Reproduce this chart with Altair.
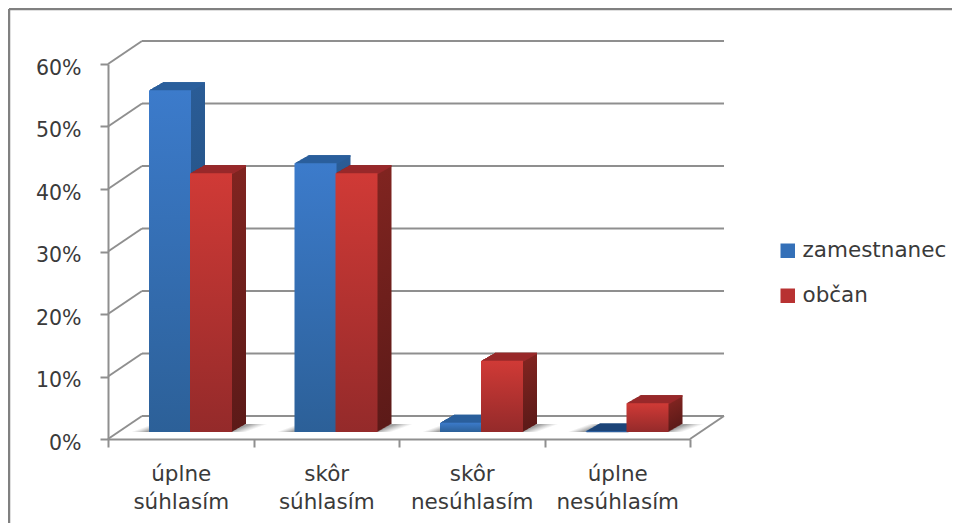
import altair as alt
import pandas as pd

categories = ["úplne súhlasím", "skôr súhlasím", "skôr nesúhlasím", "úplne nesúhlasím"]
zamestnanec = [54.7, 43.0, 1.5, 0.1]
obcan = [41.4, 41.4, 11.4, 4.6]
ticks = [0, 10, 20, 30, 40, 50, 60]
series_names = ["zamestnanec", "občan"]

GRAY = "#8f8f8f"
TXT = "#3a3a3a"
FONT = "DejaVu Sans"
W, H = 582, 375
DX, DY = 34, 23      # wall depth
BX, BY = 14, 8       # bar depth
BASE_Y = 7
HALF = W / 8

df_z = pd.DataFrame({"cat": categories, "v": zamestnanec})
df_o = pd.DataFrame({"cat": categories, "v": obcan})
df_t = pd.DataFrame({"v": ticks})

def grad(a, b):
    return alt.Gradient(gradient="linear", x1=0, y1=0, x2=0, y2=1,
                        stops=[alt.GradientStop(color=a, offset=0), alt.GradientStop(color=b, offset=1)])

xs = alt.X("cat:N", sort=categories,
           scale=alt.Scale(paddingInner=0, paddingOuter=0),
           axis=alt.Axis(title=None, labelAngle=0, labelExpr="split(datum.label,' ')",
                         labelFont=FONT, labelFontSize=21.5, labelColor=TXT, labelLineHeight=28.5,
                         labelPadding=16, tickSize=8, tickColor=GRAY, tickWidth=2, tickBand="extent",
                         domainColor=GRAY, domainWidth=2, grid=False))
ys = alt.Y("v:Q", scale=alt.Scale(domain=[0, 60], nice=False),
           axis=alt.Axis(title=None, values=ticks, labelExpr="datum.value + '%'",
                         labelFont=FONT, labelFontSize=20.5, labelColor=TXT, labelPadding=19,
                         labelOffset=4, tickSize=8, tickColor=GRAY, tickWidth=2,
                         domainColor=GRAY, domainWidth=2, grid=False))

layers = []
# axes carrier first
layers.append(alt.Chart(df_z).mark_bar(opacity=0).encode(x=xs, y=ys))
# chart frame
frame_df = pd.DataFrame({"v": [0]})
layers.append(alt.Chart(frame_df).mark_rule(color="#808080", strokeWidth=2.5).encode(
    x=alt.value(-99), x2=alt.value(W + 262), y=alt.value(-55)))
layers.append(alt.Chart(frame_df).mark_rule(color="#808080", strokeWidth=2.5).encode(
    x=alt.value(-99), y=alt.value(-55), y2=alt.value(H + 84)))
# back wall lines and diagonals
layers.append(alt.Chart(df_t).mark_rule(color=GRAY, strokeWidth=2, yOffset=-DY, y2Offset=-DY).encode(
    x=alt.value(DX), x2=alt.value(W + DX), y=ys))
layers.append(alt.Chart(df_t).mark_rule(color=GRAY, strokeWidth=2, y2Offset=-DY).encode(
    x=alt.value(0), x2=alt.value(DX), y=ys, y2=alt.Y2("v:Q")))
layers.append(alt.Chart(df_t[df_t.v == 0]).mark_rule(color=GRAY, strokeWidth=2, y2Offset=-DY).encode(
    x=alt.value(W), x2=alt.value(W + DX), y=ys, y2=alt.Y2("v:Q")))

# soft floor shadow under each pair of bars
shadow = alt.Gradient(gradient="linear", x1=0, y1=0, x2=1, y2=0, stops=[
    alt.GradientStop(color="rgba(150,150,150,0)", offset=0),
    alt.GradientStop(color="rgba(130,130,130,0.75)", offset=0.13),
    alt.GradientStop(color="rgba(130,130,130,0.75)", offset=0.85),
    alt.GradientStop(color="rgba(150,150,150,0)", offset=1),
])
for k in range(8):
    dy = -(BASE_Y + k)
    layers.append(alt.Chart(df_o).mark_bar(width=116, color=shadow, yOffset=dy, y2Offset=dy - 1).encode(
        x=xs, xOffset=alt.value(HALF + 9 + k * 2.75), y=alt.datum(0), y2=alt.datum(0)))

# bars
def bar_layers(df, center, front, side, top, low_top):
    out = []
    for k in range(BX, 0, -1):
        dy = -(BASE_Y + k * BY / BX)
        out.append(alt.Chart(df).mark_bar(width=42, color=side, yOffset=dy, y2Offset=dy).encode(
            x=xs, xOffset=alt.value(center + HALF + k), y=ys, y2=alt.datum(0)))
    for k in range(BX, 0, -1):
        dy = -(BASE_Y + k * BY / BX)
        out.append(alt.Chart(df).mark_bar(width=42, yOffset=dy, y2Offset=dy + 1.4).encode(
            x=xs, xOffset=alt.value(center + HALF + k), y=ys, y2=alt.Y2("v:Q"),
            color=alt.condition("datum.v < 1", alt.value(low_top), alt.value(top))))
    out.append(alt.Chart(df).mark_bar(width=42, color=front, yOffset=-BASE_Y, y2Offset=-BASE_Y).encode(
        x=xs, xOffset=alt.value(center + HALF), y=ys, y2=alt.datum(0)))
    return out

layers += bar_layers(df_z, -10.75, grad("#3c7bcb", "#2c6098"), grad("#2a5c96", "#1f4770"), "#2b5f9c", "#1d4578")
layers += bar_layers(df_o, 30.25, grad("#d03a36", "#942a2a"), grad("#802420", "#5c1a18"), "#98292a", "#98292a")

# legend
legend_df = pd.DataFrame({"s": series_names})
legend = alt.Chart(legend_df).mark_square(size=0, opacity=1).encode(
    color=alt.Color("s:N", sort=series_names,
                    scale=alt.Scale(domain=series_names, range=["#3470b8", "#b83232"]),
                    legend=alt.Legend(title=None, orient="none", legendX=669, legendY=176,
                                      symbolType="square", symbolSize=210, symbolOpacity=1,
                                      symbolStrokeWidth=0, rowPadding=22, labelFont=FONT, labelFontSize=21.5,
                                      labelColor=TXT, labelOffset=4)))
layers.append(legend)

chart = alt.layer(*layers).properties(
    width=W, height=H,
    autosize=alt.AutoSizeParams(type="none"),
    padding={"left": 100, "top": 56, "right": 262, "bottom": 84},
    background="white",
).configure_view(stroke=None)

chart.save("out.html", embed_options={"renderer": "svg", "actions": False})
